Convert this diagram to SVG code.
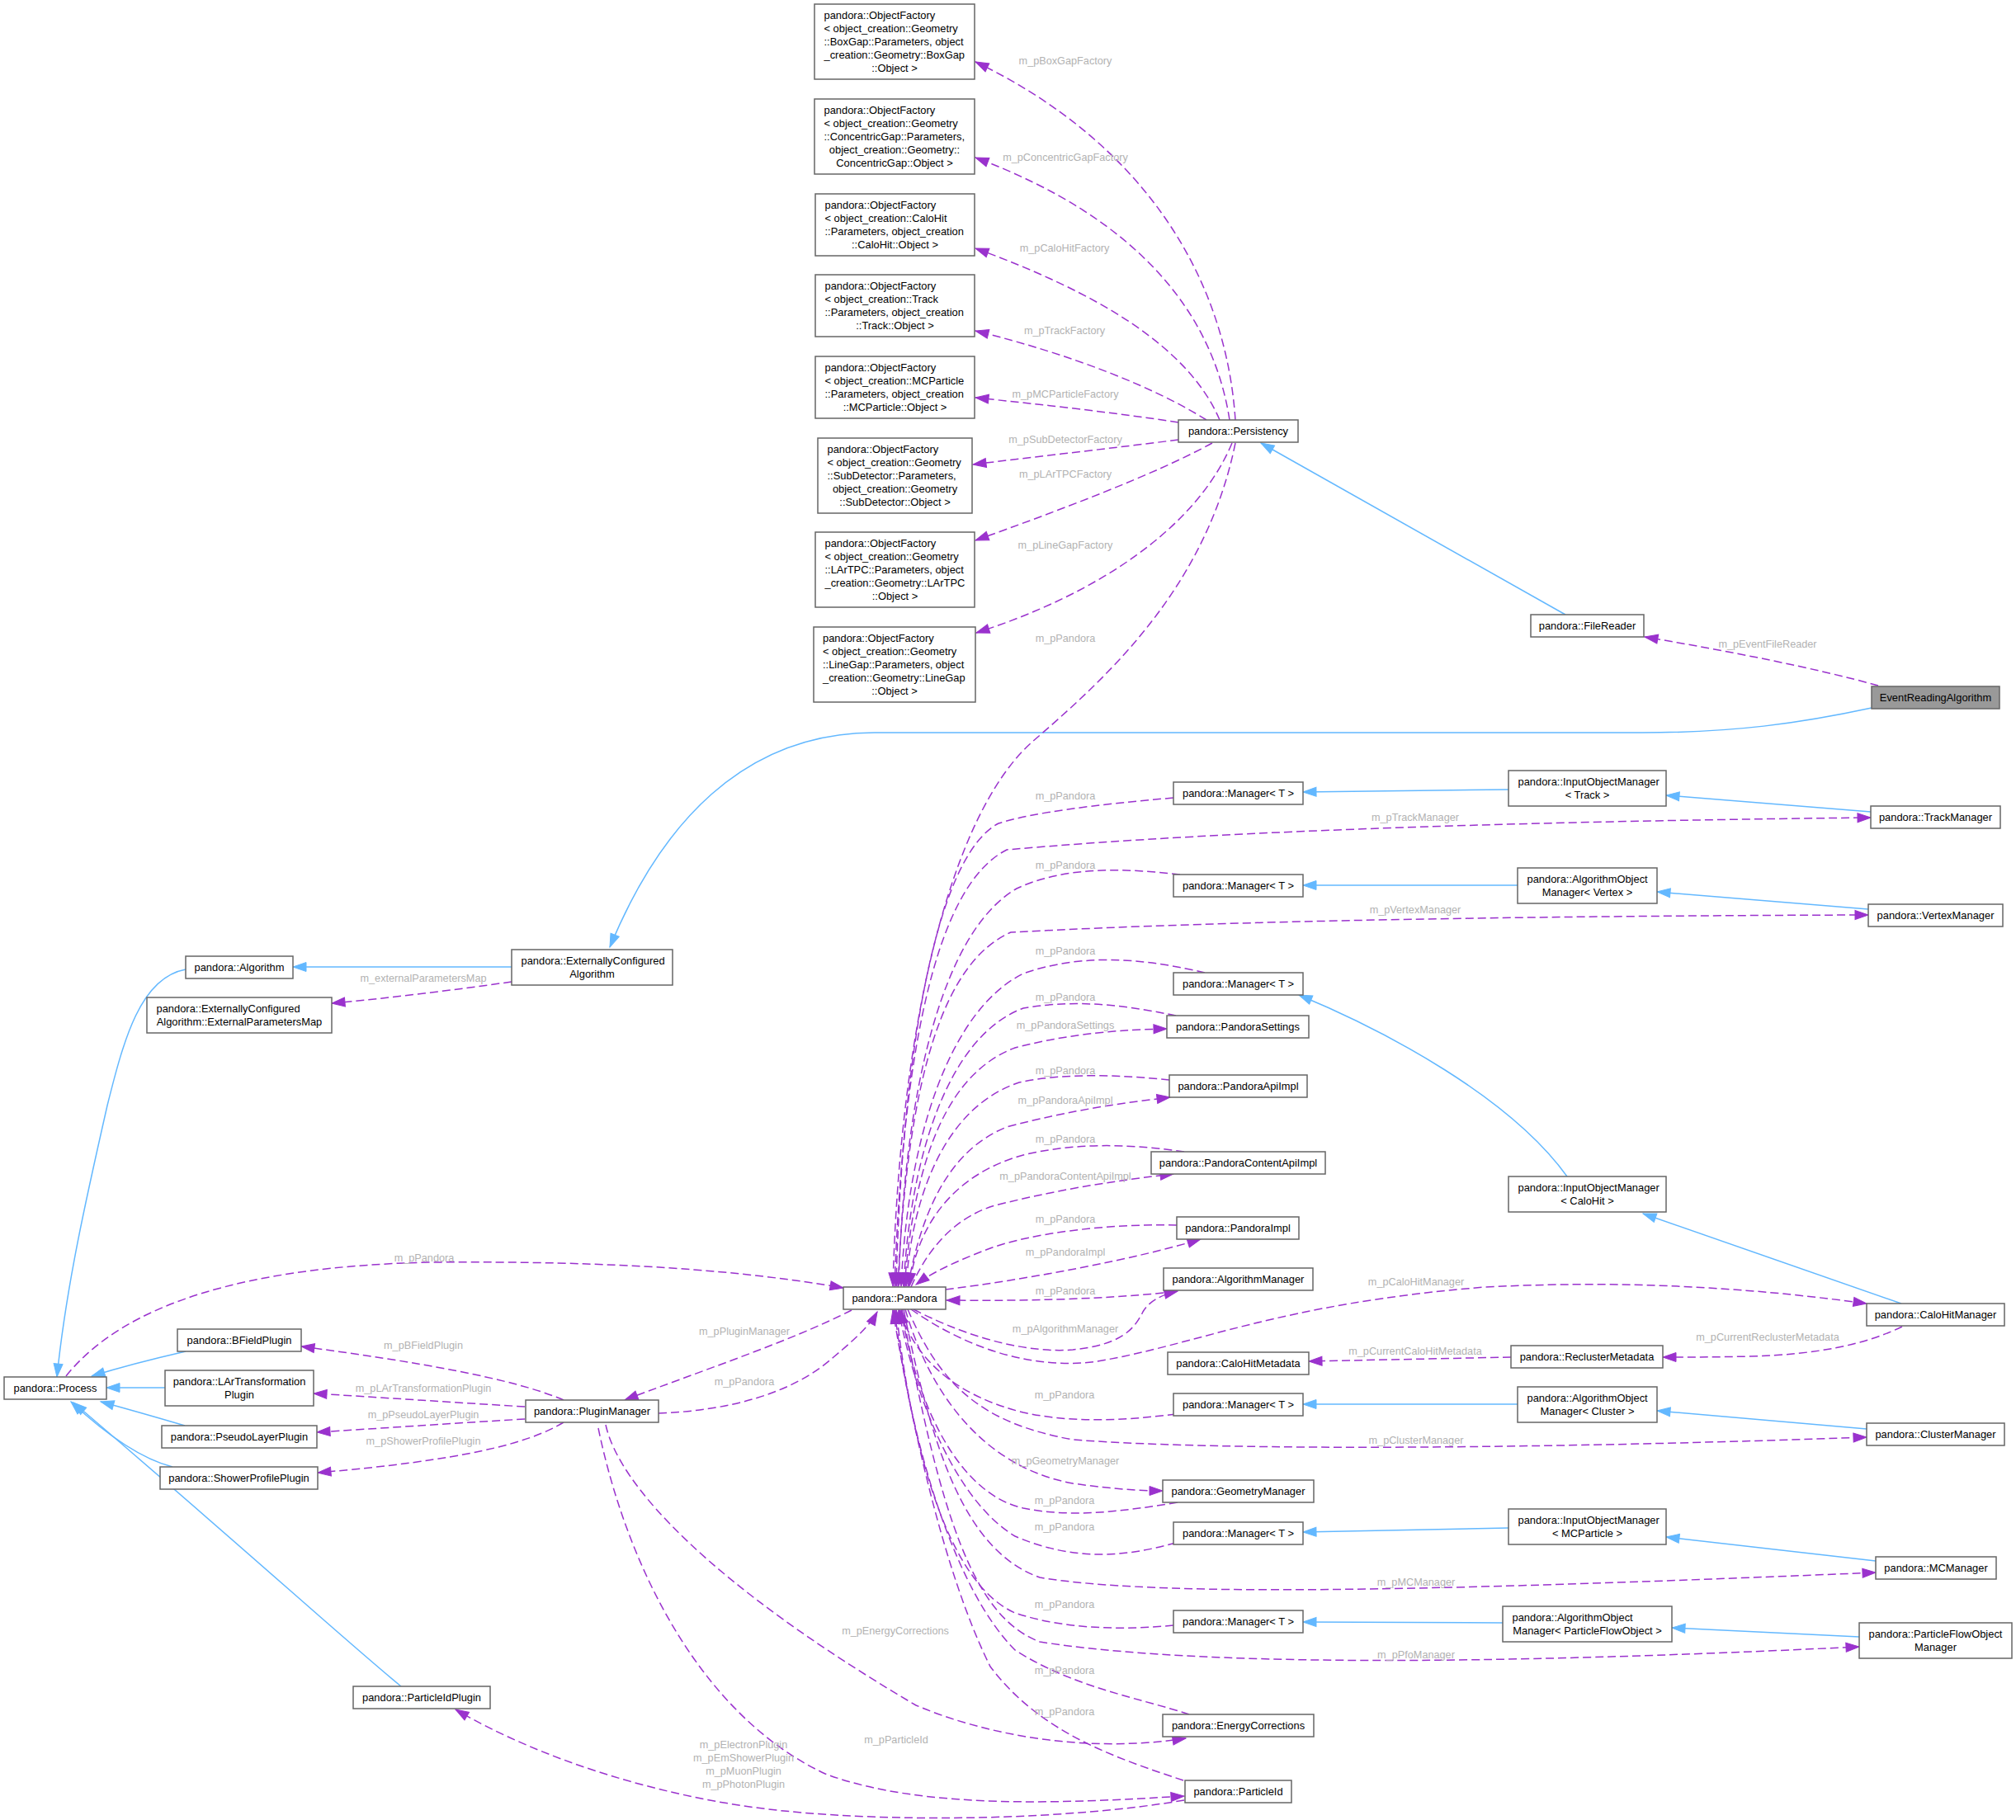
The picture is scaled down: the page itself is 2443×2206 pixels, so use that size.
<svg xmlns="http://www.w3.org/2000/svg" width="2443" height="2206" viewBox="0 0 2443 2206">
<style>
.nd rect{fill:#fff;stroke:#666;stroke-width:1.5}
.nd text{font-family:"Liberation Sans",Arial,sans-serif;font-size:12.9px;fill:#000}
.c{text-anchor:middle}
.inh{fill:none;stroke:#63b8ff;stroke-width:1.5;marker-end:url(#ab)}
.use{fill:none;stroke:#9a32cd;stroke-width:1.5;stroke-dasharray:10,5;marker-end:url(#ap)}
.lb{font-family:"Liberation Sans",Arial,sans-serif;font-size:12.7px;fill:#b2b2b2;text-anchor:middle}
</style>
<defs>
<marker id="ab" markerWidth="18" markerHeight="13" refX="16" refY="6" orient="auto" markerUnits="userSpaceOnUse" overflow="visible"><path d="M0,0.5 L16,6 L0,11.5 z" fill="#63b8ff" stroke="#63b8ff" stroke-width="1"/></marker>
<marker id="ap" markerWidth="18" markerHeight="13" refX="16" refY="6" orient="auto" markerUnits="userSpaceOnUse" overflow="visible"><path d="M0,0.5 L16,6 L0,11.5 z" fill="#9a32cd" stroke="#9a32cd" stroke-width="1"/></marker>
</defs>
<rect width="2443" height="2206" fill="#fff"/>

<g id="edges">
<!-- inheritance -->
<path class="inh" d="M1897,745 L1528,537"/>
<path class="inh" d="M2268,858 C2180,877 2100,888 1990,888 L1060,888 C900,888 800,1000 739,1148"/>
<path class="inh" d="M620,1172 L355,1172"/>
<path class="inh" d="M225,1175 C170,1185 150,1260 130,1340 C105,1450 80,1560 69,1669"/>
<path class="inh" d="M225,1638 C190,1646 150,1656 111,1668"/>
<path class="inh" d="M200,1682 L129,1682"/>
<path class="inh" d="M224,1728 C190,1718 155,1708 122,1699"/>
<path class="inh" d="M209,1778 C170,1768 130,1740 86,1699"/>
<path class="inh" d="M486,2044 C420,1990 300,1880 89,1700"/>
<path class="inh" d="M1828,957 L1579,960"/>
<path class="inh" d="M2267,984 L2019,964"/>
<path class="inh" d="M1839,1073 L1579,1073"/>
<path class="inh" d="M2264,1102 L2008,1081"/>
<path class="inh" d="M1899,1426 C1830,1330 1680,1250 1574,1206"/>
<path class="inh" d="M2304,1580 L1991,1471"/>
<path class="inh" d="M1839,1702 L1579,1702"/>
<path class="inh" d="M2262,1732 L2008,1710"/>
<path class="inh" d="M1828,1852 L1579,1857"/>
<path class="inh" d="M2273,1892 L2019,1863"/>
<path class="inh" d="M1821,1967 L1579,1966"/>
<path class="inh" d="M2253,1984 L2026,1973"/>

<!-- usage: Persistency -->
<path class="use" d="M1497,509 C1485,330 1380,170 1182,75"/>
<path class="use" d="M1490,509 C1470,380 1380,265 1182,191"/>
<path class="use" d="M1478,509 C1440,420 1330,355 1182,301"/>
<path class="use" d="M1462,509 C1400,470 1300,430 1182,401"/>
<path class="use" d="M1428,512 C1350,500 1260,490 1182,482"/>
<path class="use" d="M1428,533 C1350,543 1260,553 1179,563"/>
<path class="use" d="M1469,537 C1400,575 1280,620 1182,655"/>
<path class="use" d="M1493,537 C1450,640 1330,720 1183,767"/>
<path class="use" d="M1497,537 C1460,720 1330,830 1250,900 C1150,990 1090,1250 1082,1559"/>
<path class="use" d="M2276,831 C2200,810 2100,790 1993,772"/>
<path class="use" d="M620,1190 C550,1200 470,1210 402,1216"/>

<!-- into Pandora top -->
<path class="use" d="M1422,967 C1330,975 1250,985 1210,998 C1130,1040 1092,1300 1086,1559"/>
<path class="use" d="M1430,1060 C1360,1052 1290,1050 1232,1077 C1140,1130 1095,1330 1089,1559"/>
<path class="use" d="M1460,1179 C1400,1165 1320,1152 1240,1180 C1150,1225 1100,1380 1092,1559"/>
<path class="use" d="M1425,1231 C1370,1220 1310,1210 1240,1222 C1150,1255 1103,1400 1095,1559"/>
<path class="use" d="M1417,1309 C1360,1303 1290,1300 1235,1312 C1150,1340 1106,1440 1098,1559"/>
<path class="use" d="M1435,1396 C1380,1388 1310,1383 1240,1400 C1160,1422 1112,1480 1102,1559"/>
<path class="use" d="M1426,1485 C1340,1483 1250,1495 1200,1513 C1160,1528 1130,1542 1110,1557"/>
<!-- out of Pandora top -->
<path class="use" d="M1084,1560 C1095,1250 1140,1070 1220,1030 C1500,1005 1900,995 2267,991"/>
<path class="use" d="M1088,1560 C1100,1300 1145,1165 1225,1130 C1500,1115 1900,1110 2264,1109"/>
<path class="use" d="M1096,1560 C1108,1400 1150,1300 1230,1270 C1300,1252 1360,1248 1414,1247"/>
<path class="use" d="M1100,1560 C1120,1450 1160,1390 1220,1366 C1300,1345 1360,1337 1418,1330"/>
<path class="use" d="M1104,1560 C1130,1500 1170,1470 1210,1460 C1290,1440 1360,1430 1422,1423"/>
<path class="use" d="M1146,1563 C1250,1550 1380,1525 1455,1502"/>
<path class="use" d="M1410,1567 C1330,1575 1240,1577 1147,1576"/>
<!-- bottom -->
<path class="use" d="M1107,1587 C1180,1625 1250,1640 1300,1636 C1360,1630 1375,1610 1385,1590 C1392,1578 1405,1570 1427,1565"/>
<path class="use" d="M1104,1587 C1180,1640 1260,1660 1330,1650 C1450,1630 1550,1580 1800,1560 C2000,1550 2150,1565 2262,1580"/>
<path class="use" d="M2305,1608 C2260,1630 2200,1642 2120,1644 C2080,1645 2050,1645 2015,1645"/>
<path class="use" d="M1831,1645 L1586,1650"/>
<path class="use" d="M1425,1714 C1360,1722 1300,1725 1240,1712 C1160,1692 1110,1650 1090,1588"/>
<path class="use" d="M1100,1587 C1140,1680 1190,1725 1300,1745 C1500,1760 1900,1755 2262,1742"/>
<path class="use" d="M1097,1587 C1130,1700 1200,1780 1300,1798 C1350,1805 1380,1807 1409,1807"/>
<path class="use" d="M1427,1821 C1360,1832 1300,1840 1240,1828 C1160,1810 1110,1700 1092,1588"/>
<path class="use" d="M1425,1870 C1360,1888 1300,1892 1230,1862 C1160,1820 1110,1700 1089,1588"/>
<path class="use" d="M1095,1587 C1130,1760 1170,1880 1260,1912 C1400,1935 1700,1930 2273,1906"/>
<path class="use" d="M1422,1970 C1360,1976 1290,1975 1230,1955 C1150,1920 1105,1760 1086,1588"/>
<path class="use" d="M1093,1587 C1140,1840 1180,1960 1260,1990 C1450,2020 1800,2018 2253,1996"/>
<path class="use" d="M1441,2078 C1380,2058 1300,2045 1230,2000 C1160,1930 1105,1760 1084,1588"/>
<path class="use" d="M1434,2158 C1350,2130 1260,2100 1200,2020 C1140,1900 1100,1700 1082,1588"/>
<!-- Process / PluginManager -->
<path class="use" d="M80,1668 C150,1580 300,1535 520,1530 C750,1528 900,1540 1022,1561"/>
<path class="use" d="M798,1713 C880,1710 960,1690 1010,1645 C1040,1620 1055,1605 1063,1590"/>
<path class="use" d="M1032,1588 C960,1625 840,1665 757,1697"/>
<path class="use" d="M683,1697 C620,1670 500,1650 365,1632"/>
<path class="use" d="M636,1705 C550,1700 450,1693 380,1689"/>
<path class="use" d="M636,1720 C550,1725 450,1732 384,1736"/>
<path class="use" d="M683,1724 C640,1750 560,1770 385,1785"/>
<path class="use" d="M734,1727 C750,1800 860,1920 1110,2067 C1200,2105 1320,2125 1437,2107"/>
<path class="use" d="M725,1731 C760,1900 850,2080 1000,2150 C1120,2195 1300,2185 1435,2177"/>
<path class="use" d="M1435,2182 C1300,2205 1100,2210 950,2195 C800,2180 650,2130 552,2072"/>

<!-- labels -->
<text class="lb" x="1291" y="78">m_pBoxGapFactory</text>
<text class="lb" x="1291" y="195">m_pConcentricGapFactory</text>
<text class="lb" x="1290" y="305">m_pCaloHitFactory</text>
<text class="lb" x="1290" y="405">m_pTrackFactory</text>
<text class="lb" x="1291" y="482">m_pMCParticleFactory</text>
<text class="lb" x="1291" y="537">m_pSubDetectorFactory</text>
<text class="lb" x="1291" y="579">m_pLArTPCFactory</text>
<text class="lb" x="1291" y="665">m_pLineGapFactory</text>
<text class="lb" x="1291" y="778">m_pPandora</text>
<text class="lb" x="2142" y="785">m_pEventFileReader</text>
<text class="lb" x="513" y="1190">m_externalParametersMap</text>
<text class="lb" x="1291" y="969">m_pPandora</text>
<text class="lb" x="1715" y="995">m_pTrackManager</text>
<text class="lb" x="1291" y="1053">m_pPandora</text>
<text class="lb" x="1715" y="1107">m_pVertexManager</text>
<text class="lb" x="1291" y="1157">m_pPandora</text>
<text class="lb" x="1291" y="1213">m_pPandora</text>
<text class="lb" x="1291" y="1247">m_pPandoraSettings</text>
<text class="lb" x="1291" y="1302">m_pPandora</text>
<text class="lb" x="1291" y="1338">m_pPandoraApiImpl</text>
<text class="lb" x="1291" y="1385">m_pPandora</text>
<text class="lb" x="1291" y="1430">m_pPandoraContentApiImpl</text>
<text class="lb" x="1291" y="1482">m_pPandora</text>
<text class="lb" x="1291" y="1522">m_pPandoraImpl</text>
<text class="lb" x="1291" y="1569">m_pPandora</text>
<text class="lb" x="1291" y="1615">m_pAlgorithmManager</text>
<text class="lb" x="1716" y="1558">m_pCaloHitManager</text>
<text class="lb" x="2142" y="1625">m_pCurrentReclusterMetadata</text>
<text class="lb" x="1715" y="1642">m_pCurrentCaloHitMetadata</text>
<text class="lb" x="1290" y="1695">m_pPandora</text>
<text class="lb" x="1716" y="1750">m_pClusterManager</text>
<text class="lb" x="1291" y="1775">m_pGeometryManager</text>
<text class="lb" x="1290" y="1823">m_pPandora</text>
<text class="lb" x="1290" y="1855">m_pPandora</text>
<text class="lb" x="1716" y="1922">m_pMCManager</text>
<text class="lb" x="1290" y="1949">m_pPandora</text>
<text class="lb" x="1085" y="1981">m_pEnergyCorrections</text>
<text class="lb" x="1716" y="2010">m_pPfoManager</text>
<text class="lb" x="1290" y="2029">m_pPandora</text>
<text class="lb" x="1290" y="2079">m_pPandora</text>
<text class="lb" x="1086" y="2113">m_pParticleId</text>
<text class="lb" x="901" y="2119">m_pElectronPlugin</text>
<text class="lb" x="901" y="2135">m_pEmShowerPlugin</text>
<text class="lb" x="901" y="2151">m_pMuonPlugin</text>
<text class="lb" x="901" y="2167">m_pPhotonPlugin</text>
<text class="lb" x="514" y="1529">m_pPandora</text>
<text class="lb" x="902" y="1618">m_pPluginManager</text>
<text class="lb" x="902" y="1679">m_pPandora</text>
<text class="lb" x="513" y="1635">m_pBFieldPlugin</text>
<text class="lb" x="513" y="1687">m_pLArTransformationPlugin</text>
<text class="lb" x="513" y="1719">m_pPseudoLayerPlugin</text>
<text class="lb" x="513" y="1751">m_pShowerProfilePlugin</text>
</g>

<g id="n_f_boxgap" class="nd"><rect x="987" y="5" width="194" height="91"/>
<text x="998.5" y="23">pandora::ObjectFactory</text><text x="998.5" y="39">&lt; object_creation::Geometry</text><text x="998.5" y="55">::BoxGap::Parameters, object</text><text x="998.5" y="71">_creation::Geometry::BoxGap</text><text class="c" x="1084" y="87">::Object &gt;</text></g>
<g id="n_f_concentric" class="nd"><rect x="987" y="120" width="194" height="91"/>
<text x="998.5" y="138">pandora::ObjectFactory</text><text x="998.5" y="154">&lt; object_creation::Geometry</text><text x="998.5" y="170">::ConcentricGap::Parameters,</text><text class="c" x="1084" y="186">object_creation::Geometry::</text><text class="c" x="1084" y="202">ConcentricGap::Object &gt;</text></g>
<g id="n_f_calohit" class="nd"><rect x="988" y="235" width="193" height="75"/>
<text x="999.5" y="253">pandora::ObjectFactory</text><text x="999.5" y="269">&lt; object_creation::CaloHit</text><text x="999.5" y="285">::Parameters, object_creation</text><text class="c" x="1084.5" y="301">::CaloHit::Object &gt;</text></g>
<g id="n_f_track" class="nd"><rect x="988" y="333" width="193" height="75"/>
<text x="999.5" y="351">pandora::ObjectFactory</text><text x="999.5" y="367">&lt; object_creation::Track</text><text x="999.5" y="383">::Parameters, object_creation</text><text class="c" x="1084.5" y="399">::Track::Object &gt;</text></g>
<g id="n_f_mcparticle" class="nd"><rect x="988" y="432" width="193" height="75"/>
<text x="999.5" y="450">pandora::ObjectFactory</text><text x="999.5" y="466">&lt; object_creation::MCParticle</text><text x="999.5" y="482">::Parameters, object_creation</text><text class="c" x="1084.5" y="498">::MCParticle::Object &gt;</text></g>
<g id="n_f_subdetector" class="nd"><rect x="991" y="531" width="187" height="91"/>
<text x="1002.5" y="549">pandora::ObjectFactory</text><text x="1002.5" y="565">&lt; object_creation::Geometry</text><text x="1002.5" y="581">::SubDetector::Parameters,</text><text class="c" x="1084.5" y="597">object_creation::Geometry</text><text class="c" x="1084.5" y="613">::SubDetector::Object &gt;</text></g>
<g id="n_f_lartpc" class="nd"><rect x="988" y="645" width="193" height="91"/>
<text x="999.5" y="663">pandora::ObjectFactory</text><text x="999.5" y="679">&lt; object_creation::Geometry</text><text x="999.5" y="695">::LArTPC::Parameters, object</text><text x="999.5" y="711">_creation::Geometry::LArTPC</text><text class="c" x="1084.5" y="727">::Object &gt;</text></g>
<g id="n_f_linegap" class="nd"><rect x="986" y="760" width="196" height="91"/>
<text x="997" y="778">pandora::ObjectFactory</text><text x="997" y="794">&lt; object_creation::Geometry</text><text x="997" y="810">::LineGap::Parameters, object</text><text x="997" y="826">_creation::Geometry::LineGap</text><text class="c" x="1084" y="842">::Object &gt;</text></g>

<g id="n_persistency" class="nd"><rect x="1428" y="509" width="145" height="27"/><text class="c" x="1500.5" y="527">pandora::Persistency</text></g>
<g id="n_filereader" class="nd"><rect x="1855" y="745" width="137" height="27"/><text class="c" x="1923.5" y="763">pandora::FileReader</text></g>
<g id="n_era" class="nd"><rect x="2268" y="832" width="155" height="27" style="fill:#999"/><text class="c" x="2345.5" y="850">EventReadingAlgorithm</text></g>
<g id="n_eca" class="nd"><rect x="620" y="1151" width="195" height="43"/><text x="631.5" y="1169">pandora::ExternallyConfigured</text><text class="c" x="717.5" y="1185">Algorithm</text></g>
<g id="n_algorithm" class="nd"><rect x="225" y="1159" width="130" height="27"/><text class="c" x="290" y="1177">pandora::Algorithm</text></g>
<g id="n_epm" class="nd"><rect x="178" y="1209" width="224" height="43"/><text x="189.5" y="1227">pandora::ExternallyConfigured</text><text class="c" x="290" y="1243">Algorithm::ExternalParametersMap</text></g>
<g id="n_process" class="nd"><rect x="5" y="1669" width="124" height="27"/><text class="c" x="67" y="1687">pandora::Process</text></g>
<g id="n_bfield" class="nd"><rect x="215" y="1611" width="150" height="27"/><text class="c" x="290" y="1629">pandora::BFieldPlugin</text></g>
<g id="n_lartrans" class="nd"><rect x="200" y="1661" width="180" height="43"/><text class="c" x="290" y="1679">pandora::LArTransformation</text><text class="c" x="290" y="1695">Plugin</text></g>
<g id="n_pseudolayer" class="nd"><rect x="196" y="1728" width="188" height="27"/><text class="c" x="290" y="1746">pandora::PseudoLayerPlugin</text></g>
<g id="n_showerprofile" class="nd"><rect x="194" y="1778" width="191" height="27"/><text class="c" x="289.5" y="1796">pandora::ShowerProfilePlugin</text></g>
<g id="n_particleidplugin" class="nd"><rect x="428" y="2044" width="166" height="27"/><text class="c" x="511" y="2062">pandora::ParticleIdPlugin</text></g>
<g id="n_pluginmanager" class="nd"><rect x="637" y="1697" width="161" height="27"/><text class="c" x="717.5" y="1715">pandora::PluginManager</text></g>
<g id="n_pandora" class="nd"><rect x="1022" y="1560" width="124" height="27"/><text class="c" x="1084" y="1578">pandora::Pandora</text></g>

<g id="n_manager1" class="nd"><rect x="1422" y="948" width="157" height="27"/><text class="c" x="1500.5" y="966">pandora::Manager&lt; T &gt;</text></g>
<g id="n_iom_track" class="nd"><rect x="1828" y="934" width="191" height="43"/><text x="1839.5" y="952">pandora::InputObjectManager</text><text class="c" x="1923.5" y="968">&lt; Track &gt;</text></g>
<g id="n_trackmanager" class="nd"><rect x="2267" y="977" width="157" height="27"/><text class="c" x="2345.5" y="995">pandora::TrackManager</text></g>
<g id="n_manager2" class="nd"><rect x="1422" y="1060" width="157" height="27"/><text class="c" x="1500.5" y="1078">pandora::Manager&lt; T &gt;</text></g>
<g id="n_aom_vertex" class="nd"><rect x="1839" y="1052" width="169" height="43"/><text x="1850.5" y="1070">pandora::AlgorithmObject</text><text class="c" x="1923.5" y="1086">Manager&lt; Vertex &gt;</text></g>
<g id="n_vertexmanager" class="nd"><rect x="2264" y="1096" width="163" height="27"/><text class="c" x="2345.5" y="1114">pandora::VertexManager</text></g>
<g id="n_manager3" class="nd"><rect x="1422" y="1179" width="157" height="27"/><text class="c" x="1500.5" y="1197">pandora::Manager&lt; T &gt;</text></g>
<g id="n_pandorasettings" class="nd"><rect x="1414" y="1231" width="172" height="27"/><text class="c" x="1500" y="1249">pandora::PandoraSettings</text></g>
<g id="n_pandoraapiimpl" class="nd"><rect x="1417" y="1303" width="167" height="27"/><text class="c" x="1500.5" y="1321">pandora::PandoraApiImpl</text></g>
<g id="n_pandoracontentapiimpl" class="nd"><rect x="1395" y="1396" width="211" height="27"/><text class="c" x="1500.5" y="1414">pandora::PandoraContentApiImpl</text></g>
<g id="n_pandoraimpl" class="nd"><rect x="1426" y="1475" width="148" height="27"/><text class="c" x="1500" y="1493">pandora::PandoraImpl</text></g>
<g id="n_algorithmmanager" class="nd"><rect x="1410" y="1537" width="181" height="27"/><text class="c" x="1500.5" y="1555">pandora::AlgorithmManager</text></g>
<g id="n_iom_calohit" class="nd"><rect x="1828" y="1426" width="191" height="43"/><text x="1839.5" y="1444">pandora::InputObjectManager</text><text class="c" x="1923.5" y="1460">&lt; CaloHit &gt;</text></g>
<g id="n_calohitmanager" class="nd"><rect x="2262" y="1580" width="167" height="27"/><text class="c" x="2345.5" y="1598">pandora::CaloHitManager</text></g>
<g id="n_calohitmetadata" class="nd"><rect x="1415" y="1639" width="171" height="27"/><text class="c" x="1500.5" y="1657">pandora::CaloHitMetadata</text></g>
<g id="n_reclustermetadata" class="nd"><rect x="1831" y="1631" width="184" height="27"/><text class="c" x="1923" y="1649">pandora::ReclusterMetadata</text></g>
<g id="n_manager4" class="nd"><rect x="1422" y="1689" width="157" height="27"/><text class="c" x="1500.5" y="1707">pandora::Manager&lt; T &gt;</text></g>
<g id="n_aom_cluster" class="nd"><rect x="1839" y="1681" width="169" height="43"/><text x="1850.5" y="1699">pandora::AlgorithmObject</text><text class="c" x="1923.5" y="1715">Manager&lt; Cluster &gt;</text></g>
<g id="n_clustermanager" class="nd"><rect x="2262" y="1725" width="167" height="27"/><text class="c" x="2345.5" y="1743">pandora::ClusterManager</text></g>
<g id="n_geometrymanager" class="nd"><rect x="1409" y="1794" width="183" height="27"/><text class="c" x="1500.5" y="1812">pandora::GeometryManager</text></g>
<g id="n_manager5" class="nd"><rect x="1422" y="1845" width="157" height="27"/><text class="c" x="1500.5" y="1863">pandora::Manager&lt; T &gt;</text></g>
<g id="n_iom_mcparticle" class="nd"><rect x="1828" y="1829" width="191" height="43"/><text x="1839.5" y="1847">pandora::InputObjectManager</text><text class="c" x="1923.5" y="1863">&lt; MCParticle &gt;</text></g>
<g id="n_mcmanager" class="nd"><rect x="2273" y="1887" width="146" height="27"/><text class="c" x="2346" y="1905">pandora::MCManager</text></g>
<g id="n_manager6" class="nd"><rect x="1422" y="1952" width="157" height="27"/><text class="c" x="1500.5" y="1970">pandora::Manager&lt; T &gt;</text></g>
<g id="n_aom_pfo" class="nd"><rect x="1821" y="1947" width="205" height="43"/><text x="1832.5" y="1965">pandora::AlgorithmObject</text><text class="c" x="1923.5" y="1981">Manager&lt; ParticleFlowObject &gt;</text></g>
<g id="n_pfomanager" class="nd"><rect x="2253" y="1967" width="185" height="43"/><text x="2264.5" y="1985">pandora::ParticleFlowObject</text><text class="c" x="2345.5" y="2001">Manager</text></g>
<g id="n_energycorrections" class="nd"><rect x="1409" y="2078" width="183" height="27"/><text class="c" x="1500.5" y="2096">pandora::EnergyCorrections</text></g>
<g id="n_particleid" class="nd"><rect x="1436" y="2158" width="129" height="27"/><text class="c" x="1500.5" y="2176">pandora::ParticleId</text></g>
</svg>
